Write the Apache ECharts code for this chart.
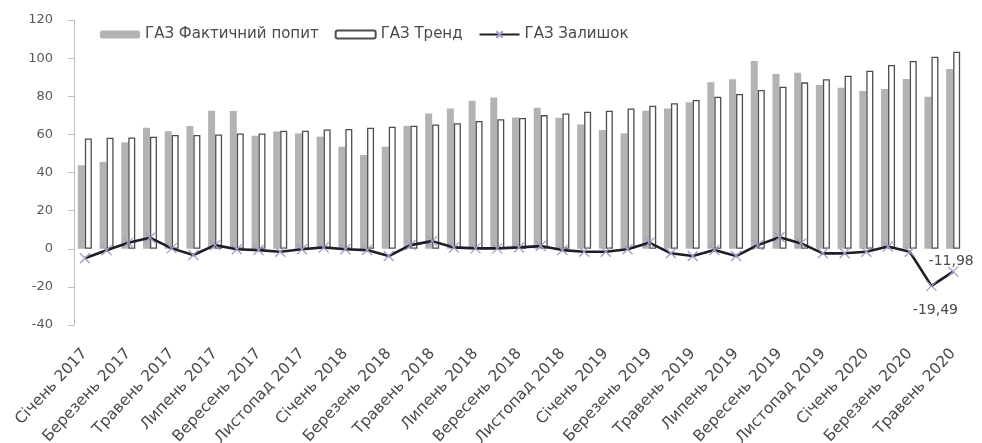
<!DOCTYPE html>
<html>
<head>
<meta charset="utf-8">
<script src="https://cdn.jsdelivr.net/npm/echarts@6/dist/echarts.min.js"></script>
<style>
  html, body { margin: 0; padding: 0; background: #fff; }
  #chart { width: 982px; height: 443px; }
</style>
</head>
<body>
<div id="chart"></div>
<script>
// Monthly gas demand, Jan 2017 - May 2020
const months = ['Січень', 'Лютий', 'Березень', 'Квітень', 'Травень', 'Червень',
                'Липень', 'Серпень', 'Вересень', 'Жовтень', 'Листопад', 'Грудень'];
const years = [2017, 2018, 2019, 2020];
const categories = [];
years.forEach(y => months.forEach((m, i) => {
  if (y < 2020 || i <= 4) categories.push(m + ' ' + y);
}));

// ГАЗ Фактичний попит
const actualDemand = [
  43.8, 45.6, 55.8, 63.5, 61.7, 64.4, 72.4, 72.2, 59.3, 61.5, 60.5, 58.8,
  53.5, 49.2, 53.5, 64.5, 71.0, 73.6, 77.7, 79.4, 68.9, 74.0, 68.7, 65.2,
  62.3, 60.5, 72.4, 73.6, 76.8, 87.3, 88.9, 98.5, 91.7, 92.3, 85.9, 84.5,
  82.7, 83.8, 89.0, 79.8, 94.3
];
// ГАЗ Тренд
const trend = [
  57.9, 58.2, 58.4, 58.8, 59.7, 59.7, 60.0, 60.5, 60.5, 61.9, 61.9, 62.6,
  62.8, 63.5, 64.0, 64.5, 65.2, 65.8, 67.0, 68.0, 68.6, 70.1, 71.0, 71.9,
  72.4, 73.6, 75.0, 76.3, 78.0, 79.8, 81.2, 83.3, 85.0, 87.3, 88.9, 90.8,
  93.4, 96.4, 98.5, 100.7, 103.4
];
// ГАЗ Залишок
const residual = [
  -5.0, -0.8, 3.2, 5.8, 0.2, -3.3, 1.9, -0.3, -0.7, -1.6, -0.3, 0.7,
  -0.3, -0.7, -3.8, 1.9, 4.0, 0.7, 0.2, 0.2, 0.7, 1.4, -0.7, -1.6,
  -1.6, -0.3, 3.2, -2.4, -3.8, -0.7, -3.8, 1.9, 6.0, 2.8, -2.4, -2.4,
  -1.6, 1.2, -1.6, -19.49, -11.98
];
const yTicks = { min: -40, max: 120, step: 20 };

// Only the last two residuals carry value labels
const fmt = v => String(v).replace('.', ',');
const residualData = residual.map((v, i) => {
  if (i === residual.length - 2) {
    return { value: v, label: { show: true, position: 'bottom', distance: 12, offset: [4, 0] } };
  }
  if (i === residual.length - 1) {
    return { value: v, label: { show: true, position: 'top', distance: 2, offset: [-2, 4] } };
  }
  return v;
});

const textColor = '#4a4a4a';
const font = '"DejaVu Sans", "Open Sans", sans-serif';

const chart = echarts.init(document.getElementById('chart'), null, { renderer: 'canvas' });
chart.setOption({
  backgroundColor: '#ffffff',
  animation: false,
  textStyle: { fontFamily: font },
  grid: {
    left: 74, right: 18, top: 20, bottom: 118,
    containLabel: false,
    outerBoundsMode: 'none'
  },
  legend: {
    left: 95,
    top: 22,
    itemWidth: 40,
    itemHeight: 8,
    itemGap: 16,
    textStyle: { color: textColor, fontSize: 15, fontFamily: font },
    data: ['ГАЗ Фактичний попит', 'ГАЗ Тренд', 'ГАЗ Залишок']
  },
  xAxis: {
    type: 'category',
    data: categories,
    boundaryGap: true,
    axisLine: { show: false, onZero: false },
    axisTick: { show: false },
    axisLabel: {
      interval: 1,
      rotate: 47,
      margin: 26,
      color: textColor,
      fontSize: 15.5,
      fontFamily: font
    }
  },
  yAxis: {
    type: 'value',
    min: yTicks.min,
    max: yTicks.max,
    interval: yTicks.step,
    axisLine: { show: true, lineStyle: { color: '#bfbfbf', width: 1 } },
    axisTick: { show: true, length: 6, lineStyle: { color: '#bfbfbf' } },
    axisLabel: { color: '#595959', fontSize: 13, margin: 21, fontFamily: font },
    splitLine: { show: false }
  },
  series: [
    {
      name: 'ГАЗ Фактичний попит',
      type: 'bar',
      data: actualDemand,
      barWidth: 7,
      barGap: '0%',
      itemStyle: { color: '#b3b3b3' }
    },
    {
      name: 'ГАЗ Тренд',
      type: 'bar',
      data: trend,
      barWidth: 7,
      barGap: '0%',
      itemStyle: { color: '#ffffff', borderColor: '#4d4d4d', borderWidth: 1.3 }
    },
    {
      name: 'ГАЗ Залишок',
      type: 'line',
      data: residualData,
      symbol: 'path://M0,0L10,10M10,0L0,10',
      symbolSize: 10,
      showAllSymbol: true,
      lineStyle: { color: '#1e1e28', width: 2.6 },
      itemStyle: { color: 'rgba(0,0,0,0)', borderColor: '#a09ec8', borderWidth: 1.3 },
      label: {
        show: false,
        formatter: p => fmt(p.value),
        color: textColor,
        fontSize: 14,
        fontFamily: font
      },
      z: 5
    }
  ]
});
</script>
</body>
</html>
